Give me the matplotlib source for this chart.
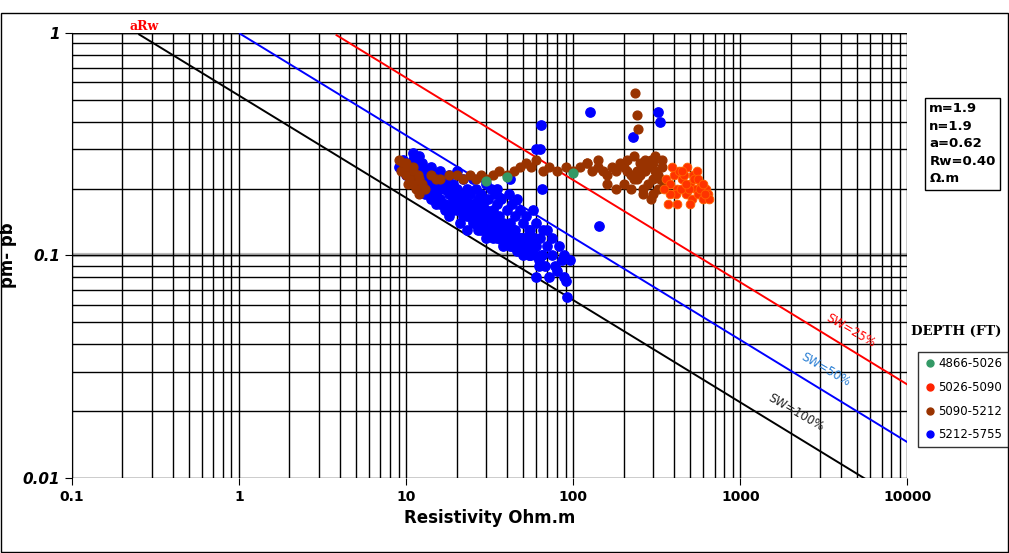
import matplotlib.pyplot as plt
import numpy as np

# Pickett plot lines: y = (x0 / x) ** k
line_k = 0.46
line_x0 = [0.245, 1.0, 3.66]
line_colors = ["black", "blue", "red"]

# depth groups (resistivity, pm-pb)
green_x = [30, 40, 100]
green_y = [0.216, 0.225, 0.235]

orange_x = [360, 380, 400, 420, 430, 450, 470, 480, 500, 510, 520, 540, 550, 560, 580, 600, 620, 640, 650,
            390, 410, 440, 460, 490, 530, 570, 610, 450, 500, 420, 560, 600, 380, 470, 350, 370]
orange_y = [0.22, 0.21, 0.23, 0.20, 0.24, 0.22, 0.19, 0.25, 0.21, 0.18, 0.23, 0.20, 0.24, 0.19, 0.21, 0.18, 0.20, 0.19, 0.18,
            0.25, 0.19, 0.20, 0.23, 0.20, 0.22, 0.20, 0.19, 0.24, 0.17, 0.17, 0.22, 0.21, 0.19, 0.21, 0.20, 0.17]

brown_x = [9, 9.5, 10, 10, 10.5, 11, 11, 11.5, 12, 12, 13, 10, 11, 12.5, 9.3, 10.2, 11.8,
           14, 15, 16, 18, 20, 22, 24, 26, 28, 30, 33, 36, 40, 44, 48, 52, 56, 60, 66, 72, 80, 90,
           100, 110, 120, 130, 140, 150, 160, 170, 180, 190, 200, 210, 220, 230, 240, 250, 260, 270,
           280, 290, 300, 310, 320, 330, 340, 200, 220, 240, 260, 280, 300, 180, 160, 250, 270, 230,
           235, 240, 245, 300, 320, 260, 290, 140, 120, 210, 310, 340, 350]
brown_y = [0.27, 0.26, 0.25, 0.23, 0.22, 0.21, 0.24, 0.20, 0.22, 0.19, 0.20, 0.26, 0.25, 0.21, 0.24, 0.21, 0.23,
           0.23, 0.22, 0.22, 0.23, 0.23, 0.22, 0.23, 0.22, 0.23, 0.22, 0.23, 0.24, 0.23, 0.24, 0.25, 0.26, 0.25, 0.27, 0.24, 0.25, 0.24, 0.25,
           0.24, 0.25, 0.26, 0.24, 0.25, 0.24, 0.23, 0.25, 0.24, 0.26, 0.25, 0.24, 0.23, 0.22, 0.24, 0.26, 0.25, 0.24,
           0.25, 0.27, 0.26, 0.24, 0.23, 0.22, 0.27, 0.21, 0.20, 0.22, 0.20, 0.21, 0.22, 0.20, 0.21, 0.23, 0.27, 0.28,
           0.54, 0.43, 0.37, 0.19, 0.20, 0.19, 0.18, 0.27, 0.26, 0.27, 0.28, 0.25, 0.21]

blue_x = [9, 9.5, 10, 10, 10.5, 11, 11, 11.5, 12, 12, 12.5, 13, 13, 13.5, 14, 14, 15, 15, 15, 16, 16, 16, 17, 17, 18, 18, 18,
          19, 19, 20, 20, 20, 21, 21, 22, 22, 22, 23, 23, 24, 24, 25, 25, 25, 26, 26, 27, 27, 28, 28, 29, 30, 30, 30,
          31, 32, 32, 33, 34, 34, 35, 35, 36, 37, 38, 38, 40, 40, 41, 42, 43, 44, 45, 45, 46, 48, 48, 50, 50, 52, 53,
          55, 55, 57, 58, 60, 60, 62, 63, 65, 66, 68, 70, 72, 75, 78, 80, 82, 85, 88, 90, 95, 70, 75, 65, 60, 92, 88,
          14, 16, 18, 20, 22, 24, 26, 28, 30, 33, 36, 40, 44, 48, 52, 56, 12, 13, 15, 17, 19, 21, 23, 25, 27, 29,
          32, 35, 38, 42, 46, 50, 55, 23, 26, 29, 34, 39, 45, 35, 65, 63, 60, 126, 323, 330, 229, 143, 42, 64, 11, 12,
          13, 14, 15, 16, 17, 18, 19, 20, 21, 22, 23, 24, 25, 26, 27, 28, 29, 31, 33, 35, 37, 39, 41, 43, 47, 49,
          13, 14, 15, 16, 17, 18, 19, 20, 21, 22, 23, 24, 25, 26, 27, 28, 30, 32, 34, 36, 38, 40, 43, 46, 51, 54,
          17, 19, 21, 23, 25, 27, 29, 31, 33, 35, 37, 39, 41, 44, 47, 50, 53, 56, 59, 62, 58, 54]
blue_y = [0.25, 0.27, 0.26, 0.23, 0.24, 0.22, 0.27, 0.25, 0.23, 0.20, 0.26, 0.24, 0.21, 0.22, 0.25, 0.19, 0.23, 0.20, 0.17,
          0.24, 0.21, 0.18, 0.22, 0.16, 0.23, 0.19, 0.15, 0.21, 0.17, 0.24, 0.20, 0.16, 0.19, 0.14, 0.22, 0.18, 0.15,
          0.20, 0.13, 0.19, 0.16, 0.22, 0.17, 0.14, 0.20, 0.15, 0.18, 0.13, 0.19, 0.14, 0.17, 0.21, 0.16, 0.12,
          0.18, 0.20, 0.14, 0.16, 0.19, 0.13, 0.17, 0.12, 0.15, 0.18, 0.14, 0.11, 0.16, 0.12, 0.19, 0.14, 0.17, 0.11,
          0.15, 0.13, 0.18, 0.12, 0.16, 0.14, 0.11, 0.15, 0.12, 0.13, 0.10, 0.16, 0.12, 0.11, 0.14, 0.09, 0.12, 0.10,
          0.13, 0.09, 0.11, 0.08, 0.10, 0.09, 0.085, 0.11, 0.095, 0.08, 0.077, 0.095, 0.13, 0.12, 0.10, 0.08, 0.065, 0.10,
          0.23, 0.22, 0.21, 0.19, 0.18, 0.17, 0.16, 0.16, 0.15, 0.15, 0.14, 0.13, 0.13, 0.12, 0.12, 0.11, 0.24, 0.23,
          0.21, 0.20, 0.19, 0.18, 0.17, 0.16, 0.155, 0.145, 0.13, 0.13, 0.12, 0.11, 0.11, 0.10, 0.10, 0.17, 0.15, 0.14,
          0.13, 0.12, 0.12, 0.20, 0.20, 0.30, 0.30, 0.44, 0.44, 0.40, 0.34, 0.136, 0.22, 0.386, 0.29, 0.28,
          0.22, 0.21, 0.22, 0.20, 0.20, 0.20, 0.19, 0.18, 0.18, 0.17, 0.17, 0.17, 0.16, 0.16, 0.16, 0.15, 0.15, 0.15, 0.14, 0.14, 0.14, 0.13, 0.13, 0.125, 0.12, 0.12,
          0.19, 0.18, 0.19, 0.17, 0.17, 0.165, 0.16, 0.17, 0.165, 0.16, 0.15, 0.15, 0.145, 0.14, 0.135, 0.13, 0.13, 0.125, 0.125, 0.12, 0.115, 0.115, 0.11, 0.105, 0.105, 0.10,
          0.20, 0.18, 0.17, 0.16, 0.15, 0.14, 0.14, 0.13, 0.12, 0.14, 0.13, 0.12, 0.12, 0.12, 0.11, 0.12, 0.11, 0.11, 0.10, 0.095, 0.12, 0.13]

fig = plt.figure(figsize=(10.09, 5.53), dpi=100)
ax = fig.add_axes([0.0714, 0.136, 0.828, 0.804])
ax.set_xscale("log")
ax.set_yscale("log")
ax.set_xlim(0.1, 10000)
ax.set_ylim(0.01, 1)

# grid
ax.grid(True, which="both", color="black", linewidth=1.0, zorder=0)
for yv in [0.1, 1]:
    ax.axhline(yv, color="#bbbbbb", linewidth=3, zorder=0.5)
for s in ["top", "right", "bottom"]:
    ax.spines[s].set_visible(False)
ax.tick_params(which="minor", length=0)
ax.tick_params(which="major", length=5)

ax.set_xticks([0.1, 1, 10, 100, 1000, 10000])
ax.set_xticklabels(["0.1", "1", "10", "100", "1000", "10000"], fontweight="bold", fontsize=10)
ax.set_yticks([0.01, 0.1, 1])
ax.set_yticklabels(["0.01", "0.1", "1"], fontweight="bold", fontstyle="italic", fontsize=11)

xs = np.logspace(-1, 4, 200)
for x0, c in zip(line_x0, line_colors):
    ys = (x0 / xs) ** line_k
    m = ys <= 1
    ax.plot(xs[m], ys[m], color=c, linewidth=1.4, zorder=2)

ax.scatter(blue_x, blue_y, s=45, color="blue", zorder=3)
ax.scatter(brown_x, brown_y, s=40, color="#993300", zorder=3)
ax.scatter(orange_x, orange_y, s=40, color="#ff3300", edgecolors="#ff6600", linewidths=0.6, zorder=3)
ax.scatter(green_x, green_y, s=40, color="#339966", zorder=3)

# line labels
ax.text(2140, 0.0196, "SW=100%", color="#222222", rotation=-30, fontsize=8.5, ha="center", va="center")
ax.text(3240, 0.0306, "SW=50%", color="#2a7fd4", rotation=-30, fontsize=8.5, ha="center", va="center")
ax.text(4570, 0.046, "SW=25%", color="red", rotation=-30, fontsize=8.5, ha="center", va="center")
ax.text(0.27, 1.0, "aRw", color="red", fontsize=9, fontweight="bold", family="serif", ha="center", va="bottom")

ax.set_xlabel("Resistivity Ohm.m", fontweight="bold", fontsize=12)
ax.set_ylabel("pm- pb", fontweight="bold", fontsize=12)

# parameter box
fig.text(0.921, 0.815, "m=1.9\nn=1.9\na=0.62\nRw=0.40\nΩ.m", fontsize=9.5, fontweight="bold", va="top", ha="left",
         linespacing=1.45, bbox=dict(boxstyle="square,pad=0.35", facecolor="white", edgecolor="black"))

# legend
fig.text(0.903, 0.4, "DEPTH (FT)", family="serif", fontweight="bold", fontsize=9.5, ha="left", va="center")
handles = [plt.Line2D([], [], marker="o", linestyle="", color=c, markersize=5)
           for c in ["#339966", "#ff2200", "#993300", "blue"]]
fig.legend(handles, ["4866-5026", "5026-5090", "5090-5212", "5212-5755"], loc="upper left",
           bbox_to_anchor=(0.904, 0.375), frameon=True, fancybox=False, edgecolor="black", fontsize=8.5,
           handletextpad=0.2, borderpad=0.5, labelspacing=0.9, handlelength=1)

fig.patches.append(plt.Rectangle((0.001, 0.001), 0.998, 0.975, transform=fig.transFigure, fill=False,
                                 edgecolor="black", linewidth=1))
fig.savefig("out.png", dpi=100)
